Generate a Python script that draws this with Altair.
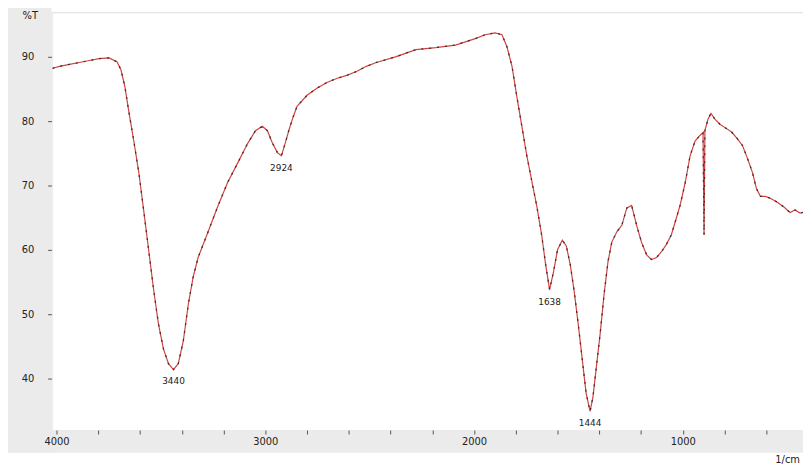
import altair as alt
import pandas as pd

# Wavenumber (cm-1) and transmittance (%T)
wavenumber = [4019, 3986, 3938, 3891, 3843, 3796, 3749, 3711, 3692, 3673, 3654, 3630, 3606, 3583,
              3559, 3535, 3512, 3488, 3464, 3440, 3417, 3393, 3369, 3346, 3322, 3274, 3227, 3180,
              3132, 3085, 3047, 3014, 2990, 2966, 2942, 2923, 2904, 2885, 2867, 2848, 2800, 2753,
              2705, 2658, 2610, 2563, 2516, 2468, 2373, 2278, 2184, 2089, 1994, 1947, 1899, 1866,
              1842, 1818, 1795, 1771, 1747, 1724, 1700, 1676, 1657, 1638, 1619, 1600, 1577, 1558,
              1539, 1520, 1501, 1482, 1463, 1444, 1430, 1415, 1396, 1377, 1358, 1340, 1316, 1292,
              1268, 1245, 1221, 1197, 1173, 1150, 1126, 1102, 1079, 1055, 1031, 1013, 989, 965,
              941, 917, 903, 898, 894, 879, 865, 846, 822, 794, 766, 737, 714, 690, 666, 647,
              628, 604, 581, 547, 514, 486, 462, 438, 424]
transmittance = [88.2, 88.5, 88.8, 89.1, 89.4, 89.7, 89.8, 89.2, 88.0, 85.4, 81.5, 76.9, 72.0, 66.2,
                 60.0, 53.8, 48.5, 44.6, 42.3, 41.4, 42.3, 45.8, 51.5, 55.7, 58.8, 62.8, 66.8, 70.5,
                 73.5, 76.5, 78.5, 79.2, 78.5, 76.6, 75.1, 74.6, 76.6, 78.8, 80.6, 82.3, 84.0, 85.1,
                 86.0, 86.6, 87.1, 87.7, 88.5, 89.1, 90.0, 91.1, 91.4, 91.8, 92.8, 93.4, 93.7, 93.4,
                 91.5, 88.5, 83.8, 79.2, 74.6, 70.8, 66.9, 62.3, 57.7, 53.8, 56.6, 60.0, 61.5, 60.6,
                 57.7, 53.5, 48.5, 43.1, 37.7, 34.9, 37.2, 41.5, 46.9, 53.1, 58.2, 61.2, 62.8, 63.8,
                 66.5, 66.9, 63.8, 61.1, 59.2, 58.5, 58.8, 59.7, 60.8, 62.3, 64.9, 66.9, 70.3, 74.6,
                 76.9, 77.8, 78.2, 62.3, 78.5, 80.3, 81.2, 80.3, 79.5, 78.9, 78.3, 77.2, 76.2, 74.2,
                 72.0, 69.5, 68.3, 68.3, 68.0, 67.4, 66.6, 65.8, 66.2, 65.7, 65.8]

peak_labels = ["3440", "2924", "1638", "1444"]
peak_wn = [3440, 2923, 1638, 1444]
peak_t = [41.4, 74.6, 53.8, 34.9]

x_ticks = list(range(4000, 400, -100))
y_ticks = [40, 50, 60, 70, 80, 90]

W, H = 759, 422

df = pd.DataFrame({"wn": wavenumber, "t": transmittance, "i": list(range(len(wavenumber)))})
peaks = pd.DataFrame({"wn": peak_wn, "t": peak_t, "lab": peak_labels})
one = pd.DataFrame({"k": [0]})

xs = alt.Scale(domain=[4024, 424], nice=False, zero=False)
ys = alt.Scale(domain=[32.0, 96.9], nice=False, zero=False)

xaxis = alt.Axis(values=x_ticks, labelExpr="datum.value % 500 == 0 ? datum.label : ''",
                 format="d", grid=False, domain=False, tickSize=4, tickColor="#555",
                 labelFontSize=10, labelColor="#222", labelPadding=3,
                 title="1/cm", titleFontSize=10, titleFontWeight="normal", titleColor="#222",
                 titleX=743, titleY=30, titleAnchor="start", titleAlign="center",
                 titleBaseline="middle", zindex=1)
yaxis = alt.Axis(values=y_ticks, grid=False, domain=False, tickSize=4, tickColor="#555",
                 labelFontSize=10, labelColor="#222", labelPadding=14,
                 title="%T", titleAngle=0, titleFontSize=10, titleFontWeight="normal",
                 titleColor="#222", titleX=-22, titleY=3, titleAlign="center",
                 titleBaseline="middle", zindex=1)

band_left = alt.Chart(one).mark_rect(color="#ebebeb").encode(
    x=alt.value(-52), x2=alt.value(0), y=alt.value(-10), y2=alt.value(H + 23))
band_bottom = alt.Chart(one).mark_rect(color="#ebebeb").encode(
    x=alt.value(-52), x2=alt.value(W), y=alt.value(H), y2=alt.value(H + 23))

red = alt.Chart(df).mark_line(color="#d8403f", strokeWidth=1.2, clip=True).encode(
    x=alt.X("wn:Q", scale=xs, axis=xaxis),
    y=alt.Y("t:Q", scale=ys, axis=yaxis),
    order="i:Q")
dash = alt.Chart(df).mark_line(color="#333333", strokeWidth=1.3, strokeDash=[2, 6], clip=True).encode(
    x=alt.X("wn:Q", scale=xs), y=alt.Y("t:Q", scale=ys), order="i:Q")

labels = alt.Chart(peaks).mark_text(fontSize=9, color="#222", dy=12, baseline="middle").encode(
    x=alt.X("wn:Q", scale=xs), y=alt.Y("t:Q", scale=ys), text="lab:N")

chart = alt.layer(band_left, band_bottom, red, dash, labels).properties(
    width=W, height=H,
    autosize=alt.AutoSizeParams(type="none"),
    padding={"left": 44, "top": 2, "right": 0, "bottom": 32},
).configure_view(stroke="#dddddd", fill="white").configure(
    font="DejaVu Sans", background="white")

chart.save("out.html", embed_options={"renderer": "svg", "actions": False})
